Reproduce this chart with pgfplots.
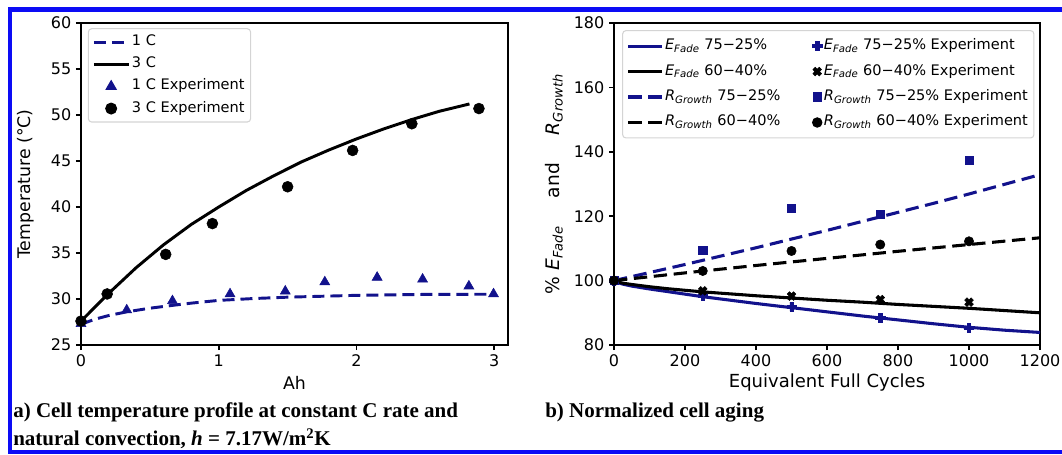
\documentclass[border=0pt]{standalone}
\usepackage{pgfplots}
\pgfplotsset{compat=1.18}
\usepackage{fontspec}
\setmainfont{DejaVu Sans}
\newfontfamily\capfont{Liberation Serif}

\definecolor{frameblue}{RGB}{12,12,245}
\definecolor{dblue}{RGB}{18,18,140}
\definecolor{legframe}{RGB}{212,212,212}

% filled plus marker
\pgfdeclareplotmark{Pplus}{%
  \pgfpathmoveto{\pgfpoint{-0.36\pgfplotmarksize}{1\pgfplotmarksize}}%
  \pgfpathlineto{\pgfpoint{0.36\pgfplotmarksize}{1\pgfplotmarksize}}%
  \pgfpathlineto{\pgfpoint{0.36\pgfplotmarksize}{0.36\pgfplotmarksize}}%
  \pgfpathlineto{\pgfpoint{1\pgfplotmarksize}{0.36\pgfplotmarksize}}%
  \pgfpathlineto{\pgfpoint{1\pgfplotmarksize}{-0.36\pgfplotmarksize}}%
  \pgfpathlineto{\pgfpoint{0.36\pgfplotmarksize}{-0.36\pgfplotmarksize}}%
  \pgfpathlineto{\pgfpoint{0.36\pgfplotmarksize}{-1\pgfplotmarksize}}%
  \pgfpathlineto{\pgfpoint{-0.36\pgfplotmarksize}{-1\pgfplotmarksize}}%
  \pgfpathlineto{\pgfpoint{-0.36\pgfplotmarksize}{-0.36\pgfplotmarksize}}%
  \pgfpathlineto{\pgfpoint{-1\pgfplotmarksize}{-0.36\pgfplotmarksize}}%
  \pgfpathlineto{\pgfpoint{-1\pgfplotmarksize}{0.36\pgfplotmarksize}}%
  \pgfpathlineto{\pgfpoint{-0.36\pgfplotmarksize}{0.36\pgfplotmarksize}}%
  \pgfpathclose
  \pgfusepathqfillstroke
}
% filled cross marker
\pgfdeclareplotmark{Xfill}{\pgftransformrotate{45}\pgfuseplotmark{Pplus}}

\pgfplotsset{
  mplaxis/.style={
    scale only axis,
    width=320.25pt, height=241.5pt,
    axis line style={line width=1.7pt},
    tick style={line width=1.2pt, black},
    tick align=outside,
    major tick length=3.75pt,
    xtick pos=bottom, ytick pos=left,
    ticklabel style={font=\fontsize{12}{14}\selectfont},
    /pgf/number format/assume math mode=true,
    /pgf/number format/1000 sep={},
    legend cell align=left,
  },
  lineleg/.style={legend image code/.code={\draw[##1] (0pt,0pt) -- (#1,0pt);}},
  markleg/.style 2 args={legend image code/.code={%
      \node[draw=none, fill=none, inner sep=0pt, minimum width=#2,
        minimum height=1pt, anchor=west] at (0pt,0pt) {};
      \draw[##1] plot coordinates {(#1,0pt)};}},
  dash1/.style={dash pattern=on 9pt off 4.5pt},
}

\begin{document}
\begin{tikzpicture}
\useasboundingbox (0pt,0pt) rectangle (796.5pt,-340.5pt);

% ---------------- a) cell temperature ----------------
\begin{axis}[mplaxis,
  at={(60.75pt,-258.75pt)}, anchor=south west,
  xmin=0, xmax=3.1, ymin=25, ymax=60,
  xtick={0,1,2,3}, ytick={25,30,...,60},
  xlabel={Ah}, ylabel={Temperature (°C)},
  label style={font=\fontsize{13}{15}\selectfont},
  xlabel style={at={(axis description cs:0.5,-0.118)}, anchor=center},
  ylabel style={at={(axis description cs:-0.129,0.5)}, anchor=center},
  legend style={at={(0.016,0.984)}, anchor=north west,
    draw=legframe, line width=0.8pt, rounded corners=2.5pt, fill=white,
    font=\fontsize{10.9}{12}\selectfont,
    inner xsep=3pt, inner ysep=4pt, row sep=4.4pt,
    nodes={inner sep=1.5pt, text height=0.72em, text depth=0.2em}},
]
\addplot[dblue, line width=2.2pt, dash1, lineleg=26pt] coordinates {
  (0,27.25) (0.1,27.8) (0.2,28.2) (0.33,28.6) (0.5,29.0) (0.66,29.3)
  (0.8,29.55) (1.0,29.85) (1.25,30.05) (1.5,30.2) (1.75,30.3) (2.0,30.4)
  (2.5,30.5) (2.97,30.52)};
\addlegendentry{1 C}
\addplot[black, line width=2.2pt, lineleg=26pt] coordinates {
  (0,27.6) (0.2,30.6) (0.4,33.4) (0.6,35.9) (0.8,38.1) (1.0,40.0)
  (1.2,41.8) (1.4,43.4) (1.6,44.9) (1.8,46.2) (2.0,47.4) (2.2,48.5)
  (2.4,49.5) (2.6,50.4) (2.82,51.2)};
\addlegendentry{3 C}
\addplot[only marks, mark=triangle*, mark size=4.3pt, dblue,
  mark options={draw=dblue, fill=dblue}, markleg={13pt}{26pt}] coordinates {
  (0,27.3) (0.332,28.8) (0.664,29.8) (1.082,30.55) (1.483,30.85)
  (1.77,31.85) (2.15,32.35) (2.48,32.15) (2.816,31.4) (2.995,30.55)};
\addlegendentry{1 C Experiment}
\addplot[only marks, mark=*, mark size=4.1pt, black,
  markleg={13pt}{26pt}] coordinates {
  (0,27.6) (0.19,30.55) (0.615,34.85) (0.954,38.2) (1.5,42.2)
  (1.972,46.15) (2.402,49.05) (2.889,50.7)};
\addlegendentry{3 C Experiment}
\end{axis}

% ---------------- b) normalized aging ----------------
\begin{axis}[mplaxis,
  at={(460.5pt,-258.75pt)}, anchor=south west,
  width=319.5pt,
  xmin=0, xmax=1200, ymin=80, ymax=180,
  xtick={0,200,...,1200}, ytick={80,100,...,180},
  xlabel={Equivalent Full Cycles},
  ylabel={\% \textit{E}\textsubscript{\textit{Fade}}\hspace{1.5em}and\hspace{1.5em}\textit{R}\textsubscript{\textit{Growth}}},
  xlabel style={font=\fontsize{13.5}{15}\selectfont,
    at={(axis description cs:0.5,-0.118)}, anchor=center},
  ylabel style={font=\fontsize{14}{16}\selectfont,
    at={(axis description cs:-0.141,0.5)}, anchor=center},
  legend columns=2,
  legend style={at={(0.019,0.978)}, anchor=north west,
    draw=legframe, line width=0.8pt, rounded corners=2.5pt, fill=white,
    font=\fontsize{10.9}{12}\selectfont,
    inner xsep=3pt, inner ysep=5.5pt, row sep=6.9pt,
    nodes={inner sep=1.5pt, text height=0.72em, text depth=0.2em},
    /tikz/column 2/.style={column sep=4.5pt}},
]
\addplot[dblue, line width=2.3pt, lineleg=25pt] coordinates {
  (0,100) (10,99.4) (25,98.9) (50,98.3) (100,97.4) (150,96.6) (200,95.8)
  (250,95.0) (300,94.3) (400,92.9) (500,91.6) (600,90.3) (700,89.0)
  (800,87.8) (900,86.6) (1000,85.5) (1100,84.6) (1200,83.9)};
\addlegendentry{\textit{E}\textsubscript{\textit{Fade}} 75−25\%}
\addplot[only marks, mark=Pplus, mark size=3.4pt, dblue,
  mark options={draw=dblue, fill=dblue, line width=0.4pt}, markleg={22pt}{25pt}] coordinates {
  (0,100) (250,95.2) (500,91.9) (750,88.4) (1000,85.3)};
\addlegendentry{\textit{E}\textsubscript{\textit{Fade}} 75−25\% Experiment}
\addplot[black, line width=2.3pt, lineleg=25pt] coordinates {
  (0,100) (10,99.6) (25,99.2) (50,98.8) (100,98.1) (150,97.5) (200,97.0)
  (250,96.5) (300,96.1) (400,95.3) (500,94.6) (600,93.9) (700,93.3)
  (800,92.6) (900,92.0) (1000,91.4) (1100,90.7) (1200,90.0)};
\addlegendentry{\textit{E}\textsubscript{\textit{Fade}} 60−40\%}
\addplot[only marks, mark=Xfill, mark size=3.4pt, black,
  mark options={draw=black, fill=black, line width=0.4pt}, markleg={22pt}{25pt}] coordinates {
  (0,100) (250,96.8) (500,95.2) (750,94.1) (1000,93.3)};
\addlegendentry{\textit{E}\textsubscript{\textit{Fade}} 60−40\% Experiment}
\addplot[dblue, line width=2.3pt, dash pattern=on 10pt off 5pt, lineleg=25pt] coordinates {
  (0,100) (100,102.5) (200,105.0) (300,107.6) (400,110.2) (500,112.9)
  (600,115.6) (700,118.4) (800,121.2) (900,124.0) (1000,126.9)
  (1100,129.9) (1200,132.9)};
\addlegendentry{\textit{R}\textsubscript{\textit{Growth}} 75−25\%}
\addplot[only marks, mark=square*, mark size=3.1pt, dblue,
  mark options={draw=dblue, fill=dblue}, markleg={22pt}{25pt}] coordinates {
  (0,100) (250,109.5) (500,122.5) (750,120.6) (1000,137.4)};
\addlegendentry{\textit{R}\textsubscript{\textit{Growth}} 75−25\% Experiment}
\addplot[black, line width=2.3pt, dash pattern=on 10pt off 5pt, lineleg=25pt] coordinates {
  (0,100) (200,102.4) (400,104.7) (600,106.9) (800,109.1) (1000,111.2)
  (1200,113.3)};
\addlegendentry{\textit{R}\textsubscript{\textit{Growth}} 60−40\%}
\addplot[only marks, mark=*, mark size=3.5pt, black, markleg={22pt}{25pt}] coordinates {
  (0,100) (250,103.0) (500,109.2) (750,111.2) (1000,112.2)};
\addlegendentry{\textit{R}\textsubscript{\textit{Growth}} 60−40\% Experiment}
\end{axis}

% captions
\begin{scope}[font=\capfont\bfseries\fontsize{15.75}{18}\selectfont]
\node[anchor=base west, inner sep=0pt] at (9.75pt,-312.75pt)
  {a) Cell temperature profile at constant C rate and};
\node[anchor=base west, inner sep=0pt] at (9.75pt,-333.75pt)
  {natural convection, \textit{h} = 7.17W/m\textsuperscript{2}K};
\node[anchor=base west, inner sep=0pt] at (408.75pt,-312.75pt)
  {b) Normalized cell aging};
\end{scope}

% outer frame
\draw[frameblue, line width=3.4pt, line join=miter]
  (796.5pt,-7.1pt) -- (7.5pt,-7.1pt) -- (7.5pt,-339pt) -- (796.5pt,-339pt);
\end{tikzpicture}
\end{document}
